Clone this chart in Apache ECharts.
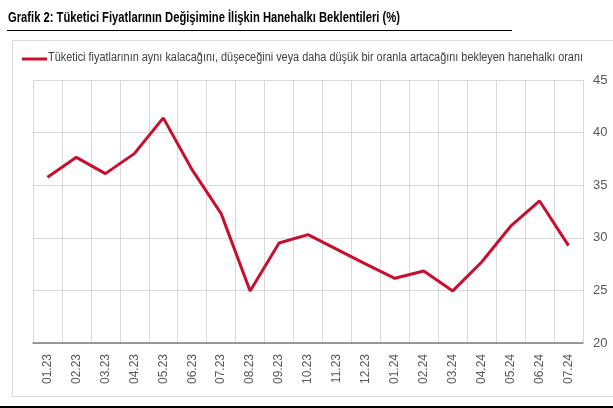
<!DOCTYPE html>
<html><head><meta charset="utf-8">
<script src="https://cdn.jsdelivr.net/npm/echarts@6/dist/echarts.min.js"></script>
<style>html,body{margin:0;padding:0;background:#fff}#c{width:613px;height:408px}</style>
</head><body><div id="c"></div>
<script>
const categories = ['01.23','02.23','03.23','04.23','05.23','06.23','07.23','08.23','09.23','10.23','11.23','12.23','01.24','02.24','03.24','04.24','05.24','06.24','07.24'];
const seriesName = 'Tüketici fiyatlarının aynı kalacağını, düşeceğini veya daha düşük bir oranla artacağını bekleyen hanehalkı oranı';
const values = [35.75, 37.65, 36.1, 38.0, 41.4, 36.45, 32.3, 24.95, 29.5, 30.3, 28.9, 27.5, 26.15, 26.85, 24.95, 27.7, 31.1, 33.5, 29.25];
const titleText = 'Grafik 2: Tüketici Fiyatlarının Değişimine İlişkin Hanehalkı Beklentileri (%)';

const titleFont = 'bold 14px "Liberation Sans", sans-serif';
const legendFont = '12px "Liberation Sans", sans-serif';
const ctx = document.createElement('canvas').getContext('2d');
function fitScale(text, font, target){ ctx.font = font; return target / ctx.measureText(text).width; }
const titleScale = fitScale(titleText, titleFont, 392);
const legendScale = fitScale(seriesName, legendFont, 535);

const chart = echarts.init(document.getElementById('c'), null, {renderer:'canvas'});
chart.setOption({
  animation:false,
  backgroundColor:'#fff',
  textStyle:{fontFamily:'Liberation Sans, sans-serif'},
  graphic:[
    {type:'text', x:8, y:11, scaleX:titleScale, style:{text:titleText, font:titleFont, fill:'#000'}},
    {type:'line', shape:{x1:7,y1:30.5,x2:512,y2:30.5}, style:{stroke:'#000', lineWidth:1}},
    {type:'rect', shape:{x:12.5,y:40.5,width:640,height:356}, style:{fill:'none', stroke:'#d9d9d9', lineWidth:1}},
    {type:'line', shape:{x1:0,y1:407,x2:613,y2:407}, style:{stroke:'#000', lineWidth:2}},
    {type:'line', shape:{x1:22,y1:59,x2:47,y2:59}, style:{stroke:'#c8102e', lineWidth:3}},
    {type:'text', x:48, y:52, scaleX:legendScale, style:{text:seriesName, font:legendFont, fill:'#404040'}}
  ],
  grid:{left:33, right:30, top:80, bottom:65, containLabel:false},
  xAxis:{
    type:'category', data:categories, boundaryGap:true,
    axisLine:{lineStyle:{color:'#7f7f7f', width:1.5}},
    axisTick:{show:false},
    axisLabel:{rotate:90, fontSize:12, color:'#595959', margin:11, interval:0},
    splitLine:{show:true, interval:0, lineStyle:{color:'#d9d9d9', width:1}}
  },
  yAxis:{
    type:'value', position:'right', min:20, max:45, interval:5,
    axisLine:{show:false}, axisTick:{show:false},
    axisLabel:{fontSize:13, color:'#595959', margin:10},
    splitLine:{lineStyle:{color:'#d9d9d9', width:1}}
  },
  series:[{
    name:seriesName, type:'line', data:values, symbol:'none',
    lineStyle:{color:'#c8102e', width:3}, itemStyle:{color:'#c8102e'}
  }]
});
</script></body></html>
